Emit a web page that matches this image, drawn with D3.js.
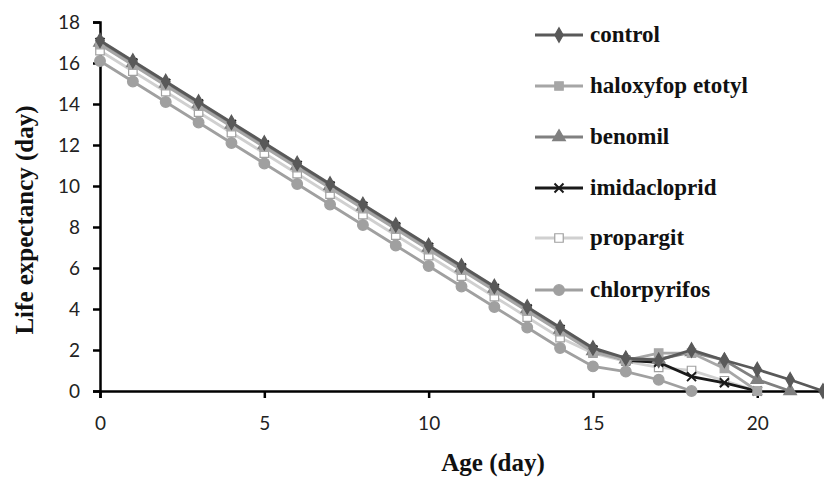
<!DOCTYPE html>
<html>
<head>
<meta charset="utf-8">
<script src="https://cdn.jsdelivr.net/npm/d3@7"></script>
<style>
  body { margin: 0; background: #fff; }
  .tick text { font-family: Lato, "Open Sans", sans-serif; font-size: 19px; fill: #222; }
  .title { font-family: "Liberation Serif", "Times New Roman", serif; font-weight: bold; font-size: 25px; fill: #111; }
  .legend text { font-family: "Liberation Serif", "Times New Roman", serif; font-weight: bold; font-size: 23px; fill: #111; }
</style>
</head>
<body>
<script>
//ages along the x axis
var ages = d3.range(0, 23);

//life expectancy (day) per treatment
var control      = [17.1,16.1,15.1,14.1,13.1,12.1,11.1,10.1,9.1,8.1,7.1,6.1,5.1,4.1,3.1,2.1,1.6,1.5,2.0,1.5,1.05,0.55,0];
var haloxyfop    = [16.9,15.9,14.9,13.9,12.9,11.9,10.9,9.9,8.9,7.9,6.9,5.9,4.9,3.9,2.9,1.9,1.5,1.85,1.85,1.1,0];
var benomil      = [17.0,16.0,15.0,14.0,13.0,12.0,11.0,10.0,9.0,8.0,7.0,6.0,5.0,4.0,3.0,1.95,1.55,1.55,1.9,1.5,0.55,0];
var imidacloprid = [17.0,16.0,15.0,14.0,13.0,12.0,11.0,10.0,9.0,8.0,7.0,6.0,5.0,4.0,3.0,2.0,1.5,1.4,0.7,0.4,0];
var propargit    = [16.6,15.6,14.6,13.6,12.6,11.6,10.6,9.6,8.6,7.6,6.6,5.6,4.6,3.6,2.6,1.85,1.45,1.15,1.0,0.5,0];
var chlorpyrifos = [16.1,15.1,14.1,13.1,12.1,11.1,10.1,9.1,8.1,7.1,6.1,5.1,4.1,3.1,2.1,1.2,0.95,0.55,0];

var seriesNames = ["control", "haloxyfop etotyl", "benomil", "imidacloprid", "propargit", "chlorpyrifos"];
var seriesValues = [control, haloxyfop, benomil, imidacloprid, propargit, chlorpyrifos];

var xTicks = [0, 5, 10, 15, 20];
var yTicks = [0, 2, 4, 6, 8, 10, 12, 14, 16, 18];

//look of each series: line colour, marker shape, marker fill
var styles = [
    {stroke: "#595959", shape: "diamond",  fill: "#595959", mstroke: "#595959"},
    {stroke: "#a6a6a6", shape: "square",   fill: "#a6a6a6", mstroke: "#a6a6a6"},
    {stroke: "#808080", shape: "triangle", fill: "#808080", mstroke: "#808080"},
    {stroke: "#1a1a1a", shape: "cross",    fill: "none",    mstroke: "#1a1a1a"},
    {stroke: "#d0d0d0", shape: "square",   fill: "#ffffff", mstroke: "#a0a0a0"},
    {stroke: "#a0a0a0", shape: "circle",   fill: "#a0a0a0", mstroke: "#a0a0a0"}
];

var width = 824,
    height = 479;

var svg = d3.select("body")
    .append("svg")
    .attr("width", width)
    .attr("height", height);

var x = d3.scaleLinear().domain([0, 22]).range([100, 823]);
var y = d3.scaleLinear().domain([0, 18]).range([391, 22]);

//marker path for a given shape
function markerPath(shape){
    if (shape == "diamond") return d3.symbol().type(d3.symbolDiamond).size(60)();
    if (shape == "square") return d3.symbol().type(d3.symbolSquare).size(72)();
    if (shape == "triangle") return d3.symbol().type(d3.symbolTriangle).size(70)();
    if (shape == "circle") return d3.symbol().type(d3.symbolCircle).size(90)();
    return "M-4.5,-4.5L4.5,4.5M-4.5,4.5L4.5,-4.5";
}

//axes
var yAxis = svg.append("g")
    .attr("transform", "translate(" + x(0) + ",0)")
    .call(d3.axisLeft(y).tickValues(yTicks).tickSize(7).tickPadding(13));

var xAxis = svg.append("g")
    .attr("transform", "translate(0," + y(0) + ")")
    .call(d3.axisBottom(x).tickValues(xTicks).tickSize(7).tickPadding(19));

[xAxis, yAxis].forEach(function(a){
    a.select(".domain").attr("stroke", "#000").attr("stroke-width", 2.5);
    a.selectAll(".tick line").attr("stroke", "#000").attr("stroke-width", 2.5);
});

var line = d3.line()
    .x(function(d, i){ return x(ages[i]); })
    .y(function(d){ return y(d); });

//draw series, last one first so control sits on top like the original
var order = [5, 4, 3, 2, 1, 0];
order.forEach(function(k){
    var s = styles[k];
    var g = svg.append("g").attr("class", "series");
    g.append("path")
        .datum(seriesValues[k])
        .attr("fill", "none")
        .attr("stroke", s.stroke)
        .attr("stroke-width", 2.8)
        .attr("d", line);
    g.selectAll(".mark")
        .data(seriesValues[k])
        .enter()
        .append("path")
        .attr("class", "mark")
        .attr("transform", function(d, i){ return "translate(" + x(ages[i]) + "," + y(d) + ")"; })
        .attr("d", markerPath(s.shape))
        .attr("fill", s.fill)
        .attr("stroke", s.mstroke)
        .attr("stroke-width", s.shape == "cross" ? 2 : 1.2);
});

//axis titles
svg.append("text")
    .attr("class", "title")
    .attr("x", 493)
    .attr("y", 471)
    .attr("text-anchor", "middle")
    .text("Age (day)");

svg.append("text")
    .attr("class", "title")
    .attr("transform", "translate(33,220) rotate(-90)")
    .attr("text-anchor", "middle")
    .text("Life expectancy (day)");

//legend
var legend = svg.append("g").attr("class", "legend");
var legendY = [35, 86, 137, 188, 238, 290];
seriesNames.forEach(function(name, k){
    var s = styles[k];
    var row = legend.append("g").attr("transform", "translate(0," + legendY[k] + ")");
    row.append("line")
        .attr("x1", 535).attr("x2", 583)
        .attr("stroke", s.stroke)
        .attr("stroke-width", 2.8);
    row.append("path")
        .attr("transform", "translate(559,0)")
        .attr("d", markerPath(s.shape))
        .attr("fill", s.fill)
        .attr("stroke", s.mstroke)
        .attr("stroke-width", s.shape == "cross" ? 2 : 1.2);
    row.append("text")
        .attr("x", 590)
        .attr("y", 7)
        .text(name);
});
</script>
</body>
</html>
